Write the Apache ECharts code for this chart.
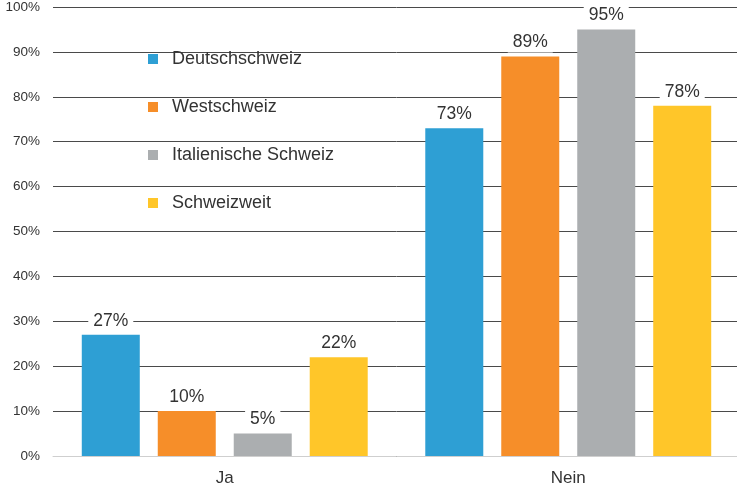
<!DOCTYPE html>
<html>
<head>
<meta charset="utf-8">
<script src="https://cdn.jsdelivr.net/npm/echarts@6/dist/echarts.min.js"></script>
<style>
  html, body { margin: 0; padding: 0; background: #fff; overflow: hidden; }
  #chart { width: 740px; height: 489px; }
</style>
</head>
<body>
<div id="chart"></div>
<script>
const categories = ['Ja', 'Nein'];
const regions = ['Deutschschweiz', 'Westschweiz', 'Italienische Schweiz', 'Schweizweit'];
const deutschschweiz = [27, 73];
const westschweiz = [10, 89];
const italienisch = [5, 95];
const schweizweit = [22, 78];
const colors = ['#2e9fd4', '#f68e29', '#abaeb0', '#ffc629'];

const chart = echarts.init(document.getElementById('chart'));

const makeBar = (name, values) => ({
  type: 'bar',
  name,
  data: values,
  barWidth: 58,
  barGap: '31%',
  label: {
    show: true,
    position: 'top',
    distance: 4,
    formatter: p => p.value + '%',
    color: '#333',
    fontFamily: 'Liberation Sans, Arial, sans-serif',
    fontSize: 17.5,
    backgroundColor: '#fff',
    padding: [1, 5]
  }
});

chart.setOption({
  animation: false,
  color: colors,
  grid: { left: 53, right: 0, top: 6, bottom: 33 },
  legend: {
    orient: 'vertical',
    left: 143,
    top: 45,
    itemWidth: 10,
    itemHeight: 10,
    itemGap: 30,
    icon: 'rect',
    selectedMode: false,
    data: regions,
    textStyle: {
      color: '#333',
      fontFamily: 'Liberation Sans, Arial, sans-serif',
      fontSize: 18,
      padding: [0, 0, 0, 9]
    }
  },
  xAxis: {
    type: 'category',
    data: categories,
    axisTick: { show: false },
    axisLine: { lineStyle: { color: '#cfcfcf', width: 1 } },
    axisLabel: {
      margin: 14,
      color: '#333',
      fontFamily: 'Liberation Sans, Arial, sans-serif',
      fontSize: 17
    }
  },
  yAxis: {
    type: 'value',
    min: 0,
    max: 100,
    interval: 10,
    axisLine: { show: false },
    axisTick: { show: false },
    axisLabel: {
      margin: 13,
      formatter: '{value}%',
      color: '#333',
      fontFamily: 'Liberation Sans, Arial, sans-serif',
      fontSize: 13.5
    },
    splitLine: { lineStyle: { color: '#4a4a4a', width: 1 } }
  },
  series: [
    makeBar(regions[0], deutschschweiz),
    makeBar(regions[1], westschweiz),
    makeBar(regions[2], italienisch),
    makeBar(regions[3], schweizweit)
  ]
});
</script>
</body>
</html>
